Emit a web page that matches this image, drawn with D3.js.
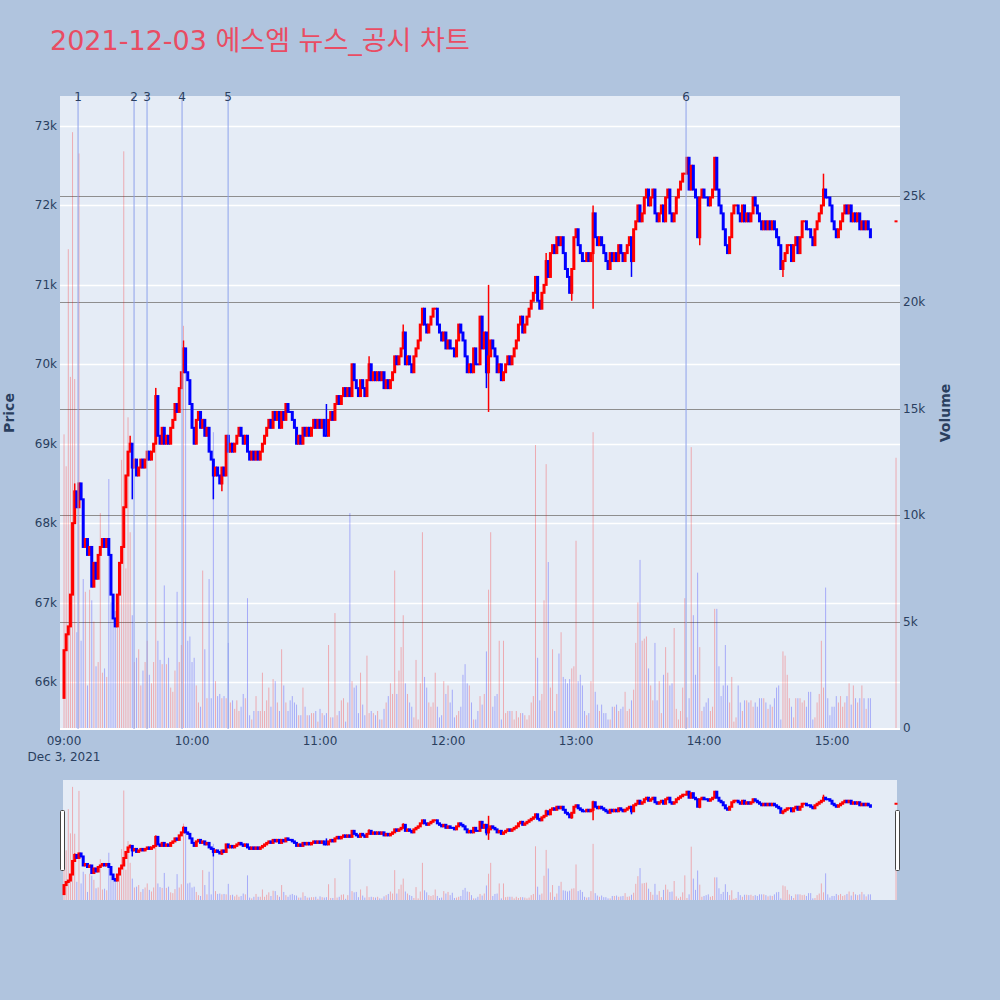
<!DOCTYPE html>
<html>
<head>
<meta charset="utf-8">
<script src="https://cdn.jsdelivr.net/npm/d3@7"></script>
<style>
  body { margin: 0; background: #b0c4de; }
  svg { display: block; font-family: "DejaVu Sans", "Noto Sans CJK KR", sans-serif; }
</style>
</head>
<body>
<svg id="chart" width="1000" height="1000"></svg>
<script>
// ---- data (1-minute bars, 2021-12-03) ----
const title = "2021-12-03 에스엠 뉴스_공시 차트";
const dayStart = "2021-12-03 09:00";
const dayOpen = 658; // unit: 100 won
// close of every minute bar from 09:00 (unit: 100 won)
const closes = [
  664,666,667,671,680,684,682,685,683,677,
  678,676,677,672,675,673,676,677,678,677,
  678,676,671,668,667,671,675,677,682,686,
  689,690,687,688,686,687,688,687,688,689,
  688,689,690,696,691,690,692,690,691,690,
  692,693,695,694,697,699,702,699,698,695,
  692,690,693,694,692,693,691,692,689,688,
  686,687,686,685,687,686,691,689,690,689,
  690,691,692,691,690,691,689,688,689,688,
  689,688,689,690,691,692,693,692,694,693,
  694,692,694,693,695,694,694,693,692,690,
  691,690,692,691,692,691,692,693,692,693,
  692,693,691,691,693,694,693,695,696,695,
  696,697,696,697,696,700,698,697,696,698,
  697,696,698,700,698,699,698,699,698,699,
  697,698,697,698,699,701,700,701,702,704,
  700,701,700,699,701,702,703,705,707,705,
  704,705,706,707,707,705,704,703,704,702,
  703,702,702,701,703,705,704,703,701,699,
  700,699,702,700,700,706,702,704,699,701,
  703,702,701,699,700,698,699,700,701,700,
  701,702,703,705,706,704,705,706,707,708,
  709,711,708,707,709,710,713,711,714,715,
  714,716,715,716,714,712,711,709,712,716,
  717,715,714,713,713,714,713,714,719,716,
  715,716,715,714,713,712,714,713,714,713,
  715,714,713,714,715,716,713,717,718,720,
  718,719,721,722,720,721,722,719,718,719,
  720,718,721,722,719,718,719,721,722,723,
  724,724,726,722,725,722,721,716,721,722,
  721,721,720,721,722,726,722,720,719,717,
  715,714,716,719,720,720,719,718,720,718,
  719,718,719,721,720,719,718,717,718,717,
  718,717,718,717,716,715,712,713,714,715,
  715,713,715,716,714,716,718,718,717,717,
  716,715,717,718,719,720,722,721,721,720,
  718,717,716,717,718,719,720,719,720,718,
  719,718,719,717,718,717,718,717,716
];
// volume of every minute bar (unit: 1,000 shares)
const volumes = [
  13.8,12.3,22.5,16.5,28.0,16.4,4.5,27.0,4.1,7.0,
  6.4,2.0,6.5,6.0,5.0,2.9,3.1,10.1,2.6,2.8,
  2.4,11.7,5.9,5.7,5.5,4.9,6.4,12.6,27.1,7.5,
  14.6,9.2,5.3,3.1,3.3,3.7,2.0,2.7,3.1,4.1,
  2.5,2.1,3.1,16.0,4.1,3.2,3.0,6.7,3.0,3.3,
  1.9,1.7,2.7,6.4,3.1,3.9,18.9,17.7,4.1,4.3,
  3.1,3.3,2.0,1.2,1.0,7.4,3.7,1.4,7.0,1.4,
  13.9,2.2,1.5,1.6,1.4,1.5,1.4,4.0,1.2,1.3,
  0.9,1.3,0.8,1.0,1.6,1.4,6.1,0.6,0.4,0.8,
  1.5,0.8,0.8,2.6,0.8,1.3,1.9,1.0,2.3,2.2,
  1.2,0.8,3.7,2.0,1.2,0.8,1.3,1.5,1.2,1.1,
  0.6,0.6,1.9,1.0,0.6,0.6,0.7,0.7,0.8,0.3,
  0.9,0.7,0.6,0.7,3.9,0.5,0.5,5.4,0.6,0.8,
  1.3,1.4,0.3,1.2,10.1,2.2,1.9,2.0,0.7,2.6,
  1.1,0.6,3.4,0.7,0.8,0.7,0.6,0.8,0.4,0.4,
  0.9,1.2,1.5,2.1,1.6,7.4,1.6,2.7,3.8,5.3,
  2.1,1.6,1.2,1.0,0.5,3.2,0.4,2.1,9.2,2.4,
  1.9,1.2,1.0,1.2,2.6,1.0,0.5,0.6,2.2,1.6,
  2.0,1.2,1.8,0.5,0.6,0.8,1.0,2.5,3.0,2.1,
  2.0,1.2,0.4,0.4,0.8,1.5,1.1,1.6,3.6,6.5,
  9.2,1.0,1.5,1.6,4.1,0.4,4.1,0.7,0.8,0.8,
  0.8,0.4,0.8,0.5,0.7,0.7,0.6,0.4,0.6,1.2,
  1.5,13.3,3.3,1.3,1.6,6.0,12.4,7.8,1.9,3.7,
  0.8,1.6,3.5,4.5,2.4,2.3,2.1,2.3,2.8,2.9,
  8.8,2.2,2.5,2.0,0.8,0.6,0.7,2.2,13.9,1.7,
  1.1,0.8,1.1,0.7,0.7,0.4,0.4,1.0,1.0,1.1,
  0.8,0.9,1.0,1.7,0.8,0.9,1.3,1.8,4.0,5.9,
  7.9,4.1,4.2,4.3,2.8,2.0,1.3,4.0,1.3,2.2,
  0.7,2.5,3.8,2.6,2.0,2.1,4.7,0.9,0.4,0.8,
  1.9,6.1,0.5,1.4,13.2,5.3,2.5,7.3,3.8,0.8,
  1.0,1.2,1.4,0.8,1.0,5.6,5.6,2.9,1.5,2.0,
  3.9,2.0,1.2,2.4,0.3,0.5,2.0,1.2,0.8,1.3,
  1.3,1.2,1.3,1.0,1.2,1.0,1.4,1.4,1.4,1.2,
  0.9,1.1,1.0,1.4,1.9,2.0,0.4,3.6,3.4,2.5,
  1.4,1.0,0.5,1.4,1.4,1.4,1.2,1.3,1.0,1.7,
  1.7,0.4,0.5,1.2,1.6,4.1,1.9,6.6,1.4,0.6,
  1.0,1.0,1.5,1.2,1.5,1.0,1.2,1.5,2.1,1.1,
  2.0,1.4,1.2,1.4,2.0,1.4,0.9,1.4,1.4
];
// wicks that reach past the body: [minute index, price (100 won)]
const wickHigh = [[5,685],[31,691],[43,697],[56,703],[123,695],[143,701],[159,705],
  [199,710],[226,714],[248,720],[356,724]];
const wickLow = [[32,683],[70,683],[74,684],[198,697],[199,694],[238,708],[248,707],
  [266,711],[298,715],[337,711]];
// closing auction
const closingTime = "2021-12-03 15:30";
const closingPrice = 718;
const closingVolume = 12.7;
// news / disclosure markers
const newsTimes = ["2021-12-03 09:06:35","2021-12-03 09:32:50","2021-12-03 09:38:55",
  "2021-12-03 09:55:20","2021-12-03 10:16:55","2021-12-03 13:51:35"];
const newsLabels = ["1","2","3","4","5","6"];
const priceTicks = [66000,67000,68000,69000,70000,71000,72000,73000];
const volumeTicks = [0,5000,10000,15000,20000,25000];

// ---- build bars ----
const parseMin = d3.timeParse("%Y-%m-%d %H:%M");
const parseSec = d3.timeParse("%Y-%m-%d %H:%M:%S");
const t0 = parseMin(dayStart);
const hiMap = new Map(wickHigh), loMap = new Map(wickLow);

const bars = closes.map((c, i) => {
  const open = (i === 0 ? dayOpen : closes[i - 1]) * 100;
  const close = c * 100;
  return {
    time: d3.timeMinute.offset(t0, i),
    open, close,
    high: Math.max(open, close, (hiMap.get(i) || 0) * 100),
    low: Math.min(open, close, (loMap.get(i) || 9999) * 100),
    volume: volumes[i] * 1000
  };
});
bars.push({
  time: parseMin(closingTime),
  open: closingPrice * 100, close: closingPrice * 100,
  high: closingPrice * 100, low: closingPrice * 100,
  volume: closingVolume * 1000
});
// direction: flat bars keep the direction given by the previous close
let prevUp = true;
bars.forEach((b, i) => {
  if (b.close !== b.open) b.up = b.close > b.open;
  else if (i > 0 && b.close !== bars[i - 1].close) b.up = b.close > bars[i - 1].close;
  else b.up = prevUp;
  prevUp = b.up;
});

// ---- layout ----
const svg = d3.select("#chart");
const plot = { left: 60, right: 900, top: 96, bottom: 729 };
const slider = { left: 63, right: 897, top: 780, bottom: 900 };
const textColor = "#2a3f5f";
const upColor = "#ff0000", downColor = "#0000ff";

const x = d3.scaleTime()
  .domain([parseSec("2021-12-03 08:58:07"), parseSec("2021-12-03 15:31:52")])
  .range([plot.left, plot.right]);
const yPrice = d3.scaleLinear().domain([65408, 73378]).range([plot.bottom, plot.top]);
const yVol = d3.scaleLinear().domain([0, 29700]).range([728, plot.top]);

svg.append("rect").attr("width", 1000).attr("height", 1000).attr("fill", "#b0c4de");

// title
svg.append("text")
  .attr("x", 50).attr("y", 50)
  .attr("fill", "#e94c63")
  .style("font-size", "27px")
  .text(title);

// plot background
svg.append("rect")
  .attr("x", plot.left).attr("y", plot.top)
  .attr("width", plot.right - plot.left).attr("height", plot.bottom - plot.top)
  .attr("fill", "#e5ecf6");

// price grid (white)
svg.append("g").selectAll("line").data(priceTicks).enter().append("line")
  .attr("x1", plot.left).attr("x2", plot.right)
  .attr("y1", d => Math.round(yPrice(d)) + 0.5).attr("y2", d => Math.round(yPrice(d)) + 0.5)
  .attr("stroke", "#ffffff").attr("stroke-width", 1.5);

// volume grid (grey)
svg.append("g").selectAll("line").data(volumeTicks.filter(d => d > 0)).enter().append("line")
  .attr("x1", plot.left).attr("x2", plot.right)
  .attr("y1", d => Math.round(yVol(d)) + 0.5).attr("y2", d => Math.round(yVol(d)) + 0.5)
  .attr("stroke", "#8e8e8e").attr("stroke-width", 1);

svg.append("line")
  .attr("x1", plot.left).attr("x2", plot.right)
  .attr("y1", yVol(0) + 1).attr("y2", yVol(0) + 1)
  .attr("stroke", "#ffffff").attr("stroke-width", 2);

// draws volume bars + candles into a group with given y scales
function drawSeries(g, yP, yV) {
  g.selectAll(".vol").data(bars).enter().append("rect")
    .attr("class", "vol")
    .attr("x", d => x(d.time) - 0.5)
    .attr("width", 1)
    .attr("y", d => yV(d.volume))
    .attr("height", d => yV(0) - yV(d.volume))
    .attr("fill", d => d.up ? upColor : downColor)
    .attr("fill-opacity", 0.28);

  g.selectAll(".wick").data(bars).enter().append("line")
    .attr("class", "wick")
    .attr("x1", d => x(d.time)).attr("x2", d => x(d.time))
    .attr("y1", d => yP(d.high)).attr("y2", d => yP(d.low))
    .attr("stroke", d => d.up ? upColor : downColor)
    .attr("stroke-width", 1.5);

  g.selectAll(".body").data(bars).enter().append("rect")
    .attr("class", "body")
    .attr("x", d => x(d.time) - 1.5)
    .attr("width", 3)
    .attr("y", d => Math.min(yP(d.open), yP(d.close)) - 1)
    .attr("height", d => Math.abs(yP(d.open) - yP(d.close)) + 2)
    .attr("fill", d => d.up ? upColor : downColor);
}

drawSeries(svg.append("g"), yPrice, yVol);

// news markers
const news = newsTimes.map((t, i) => ({ time: parseSec(t), label: newsLabels[i] }));
svg.append("g").selectAll("line").data(news).enter().append("line")
  .attr("x1", d => x(d.time)).attr("x2", d => x(d.time))
  .attr("y1", plot.top).attr("y2", plot.bottom)
  .attr("stroke", "#8ea3ec").attr("stroke-width", 1);
svg.append("g").selectAll("text").data(news).enter().append("text")
  .attr("x", d => x(d.time)).attr("y", plot.top + 5)
  .attr("text-anchor", "middle")
  .attr("fill", textColor)
  .style("font-size", "12px")
  .text(d => d.label);

// axes labels
svg.append("g").selectAll("text").data(priceTicks).enter().append("text")
  .attr("x", plot.left - 3).attr("y", d => yPrice(d) + 4)
  .attr("text-anchor", "end").attr("fill", textColor)
  .style("font-size", "12px")
  .text(d => d3.format("~s")(d));

svg.append("g").selectAll("text").data(volumeTicks).enter().append("text")
  .attr("x", plot.right + 3).attr("y", d => yVol(d) + 4)
  .attr("fill", textColor)
  .style("font-size", "12px")
  .text(d => d === 0 ? "0" : d3.format("~s")(d));

const hourTicks = d3.timeHour.range(parseMin("2021-12-03 09:00"), parseMin("2021-12-03 15:01"));
svg.append("g").selectAll("text").data(hourTicks).enter().append("text")
  .attr("x", d => x(d)).attr("y", 745)
  .attr("text-anchor", "middle").attr("fill", textColor)
  .style("font-size", "12px")
  .text(d3.timeFormat("%H:%M"));
svg.append("text")
  .attr("x", x(hourTicks[0])).attr("y", 761)
  .attr("text-anchor", "middle").attr("fill", textColor)
  .style("font-size", "12px")
  .text("Dec 3, 2021");

svg.append("text")
  .attr("transform", "translate(14,413) rotate(-90)")
  .attr("text-anchor", "middle").attr("fill", textColor)
  .style("font-size", "14px").style("font-weight", "bold")
  .text("Price");
svg.append("text")
  .attr("transform", "translate(950,413) rotate(-90)")
  .attr("text-anchor", "middle").attr("fill", textColor)
  .style("font-size", "14px").style("font-weight", "bold")
  .text("Volume");

// ---- range slider ----
svg.append("rect")
  .attr("x", slider.left).attr("y", slider.top)
  .attr("width", slider.right - slider.left).attr("height", slider.bottom - slider.top)
  .attr("fill", "#e5ecf6");
const ySP = d3.scaleLinear().domain(yPrice.domain()).range([slider.bottom, slider.top]);
const ySV = d3.scaleLinear().domain(yVol.domain()).range([slider.bottom, slider.top]);
drawSeries(svg.append("g"), ySP, ySV);

[slider.left - 2.5, slider.right - 1.5].forEach(hx => {
  svg.append("rect")
    .attr("x", hx).attr("y", 810.5)
    .attr("width", 4).attr("height", 60)
    .attr("rx", 1)
    .attr("fill", "#ffffff").attr("stroke", "#444").attr("stroke-width", 1);
});
</script>
</body>
</html>
